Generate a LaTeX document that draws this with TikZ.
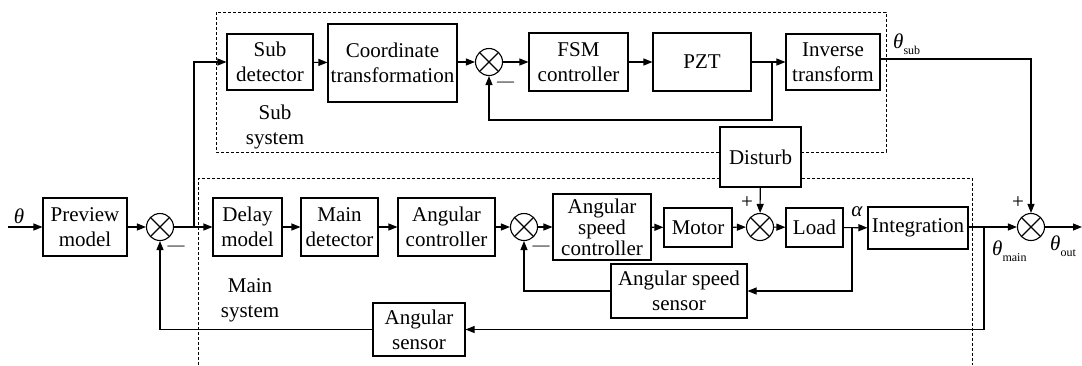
\documentclass[tikz,border=0pt]{standalone}
\usepackage{fontspec}
\setmainfont{Liberation Serif}
\usetikzlibrary{arrows.meta}
\tikzset{
  blk/.style={draw, line width=1.1pt, inner sep=0pt, align=center, fill=white, font=\fontsize{21}{25}\selectfont},
  sumj/.style={draw, circle, line width=1.1pt, minimum size=27pt, inner sep=0pt,
    path picture={\draw[line width=1.1pt] (path picture bounding box.north west)--(path picture bounding box.south east)
      (path picture bounding box.north east)--(path picture bounding box.south west);}},
  conn/.style={line width=1.1pt, -{Triangle[length=9pt,width=7pt]}},
  grp/.style={line width=0.9pt, dash pattern=on 3pt off 2pt},
  lbl/.style={inner sep=0pt, font=\fontsize{21}{25}\selectfont, align=center},
  sgn/.style={inner sep=0pt, font=\fontsize{17}{17}\selectfont},
  sigl/.style={inner sep=0pt, anchor=base west, font=\fontsize{21}{25}\selectfont},
}
\newcommand{\subtxt}[1]{\raisebox{-6pt}{\fontsize{12}{12}\selectfont\upshape #1}}
\begin{document}
\begin{tikzpicture}[x=1pt,y=-1pt]
\useasboundingbox (0,0) rectangle (1082,365);
% group frames
\draw[grp] (216,12) rectangle (886,152);
\draw[grp] (198,364.5) -- (198,178) -- (972,178) -- (972,364.5);
% sub system
\node[blk, minimum width=86, minimum height=56] (subdet) at (270,62) {Sub\\detector};
\node[blk, minimum width=129, minimum height=78] (coord) at (392.5,63) {Coordinate\\transformation};
\node[sumj] (sums) at (489,62) {};
\node[blk, minimum width=99, minimum height=58] (fsm) at (578.5,62) {FSM\\controller};
\node[blk, minimum width=98, minimum height=58] (pzt) at (702,62) {PZT};
\node[blk, minimum width=94, minimum height=56] (inv) at (833,62) {Inverse\\transform};
\node[lbl] (sublab) at (275,127) {Sub\\system};
% main system
\node[blk, minimum width=84, minimum height=58] (prev) at (85,227) {Preview\\model};
\node[sumj] (sum1) at (160,227) {};
\node[blk, minimum width=69, minimum height=58] (delay) at (247.5,227) {Delay\\model};
\node[blk, minimum width=77, minimum height=58] (maindet) at (339.5,227) {Main\\detector};
\node[blk, minimum width=97, minimum height=58] (angctl) at (446.5,227) {Angular\\controller};
\node[sumj] (sum2) at (524,227) {};
\node[blk, minimum width=98, minimum height=66, font=\fontsize{21}{21}\selectfont] (aspctl) at (602,227) {Angular\\speed\\controller};
\node[blk, minimum width=68, minimum height=39] (motor) at (698,227.5) {Motor};
\node[sumj] (sum3) at (760,227) {};
\node[blk, minimum width=57, minimum height=39] (load) at (814.5,227.5) {Load};
\node[blk, minimum width=100, minimum height=42] (integ) at (918,228) {Integration};
\node[sumj] (sumo) at (1031,227) {};
\node[blk, minimum width=136, minimum height=54] (aspsens) at (679,291) {Angular speed\\sensor};
\node[blk, minimum width=92, minimum height=53] (angsens) at (419,329.5) {Angular\\sensor};
\node[blk, minimum width=81, minimum height=60] (dist) at (760.5,157) {Disturb};
\node[lbl] (mainlab) at (250,300) {Main\\system};
% signs and signal labels
\node[sgn] (m1) at (176,248) {—};
\node[sgn] (m2) at (541,248) {—};
\node[sgn] (m3) at (505.5,84) {—};
\node[lbl] (p3) at (747,203) {+};
\node[lbl] (po) at (1018,203) {+};
\node[lbl] (thin) at (19,216) {\itshape θ};
\node[lbl] (alpha) at (857,212) {\itshape α};
\node[sigl] (tsub) at (893,48) {{\itshape θ}\subtxt{sub}};
\node[sigl] (tmain) at (992,255) {{\itshape θ}\subtxt{main}};
\node[sigl] (tout) at (1050,250) {{\itshape θ}\subtxt{out}};
% branch coordinates
\coordinate (inp) at (8,227);
\coordinate (outp) at (1082,227);
\coordinate (b1) at (194,227);
\coordinate (b2) at (772,62);
\coordinate (b3) at (852,227);
\coordinate (b4) at (984,227);
% sub system connectors
\draw[conn] (b1) |- (subdet.west);
\draw[conn] (subdet) -- (coord);
\draw[conn] (coord.east |- sums) -- (sums);
\draw[conn] (sums) -- (fsm);
\draw[conn] (fsm) -- (pzt);
\draw[conn] (pzt) -- (inv);
\draw[conn] (b2) -- (772,120) -| (sums.south);
\draw[conn] ([yshift=3pt]inv.east) -| (sumo.north);
% main connectors
\draw[conn] (inp) -- (prev);
\draw[conn] (prev) -- (sum1);
\draw[conn] (sum1) -- (delay);
\draw[conn] (delay) -- (maindet);
\draw[conn] (maindet) -- (angctl);
\draw[conn] (angctl) -- (sum2);
\draw[conn] (sum2) -- (aspctl);
\draw[conn] (aspctl) -- (motor);
\draw[conn] (motor) -- (sum3);
\draw[conn] (sum3) -- (load);
\draw[conn] (load) -- (integ);
\draw[conn] (dist) -- (sum3);
\draw[conn] (integ.east |- sumo) -- (sumo);
\draw[conn] (sumo) -- (outp);
\draw[conn] (b3) |- (aspsens.east);
\draw[conn] (aspsens.west) -| (sum2.south);
\draw[conn] (b4) |- (angsens.east);
\draw[conn] (angsens.west) -| (sum1.south);
\end{tikzpicture}
\end{document}
